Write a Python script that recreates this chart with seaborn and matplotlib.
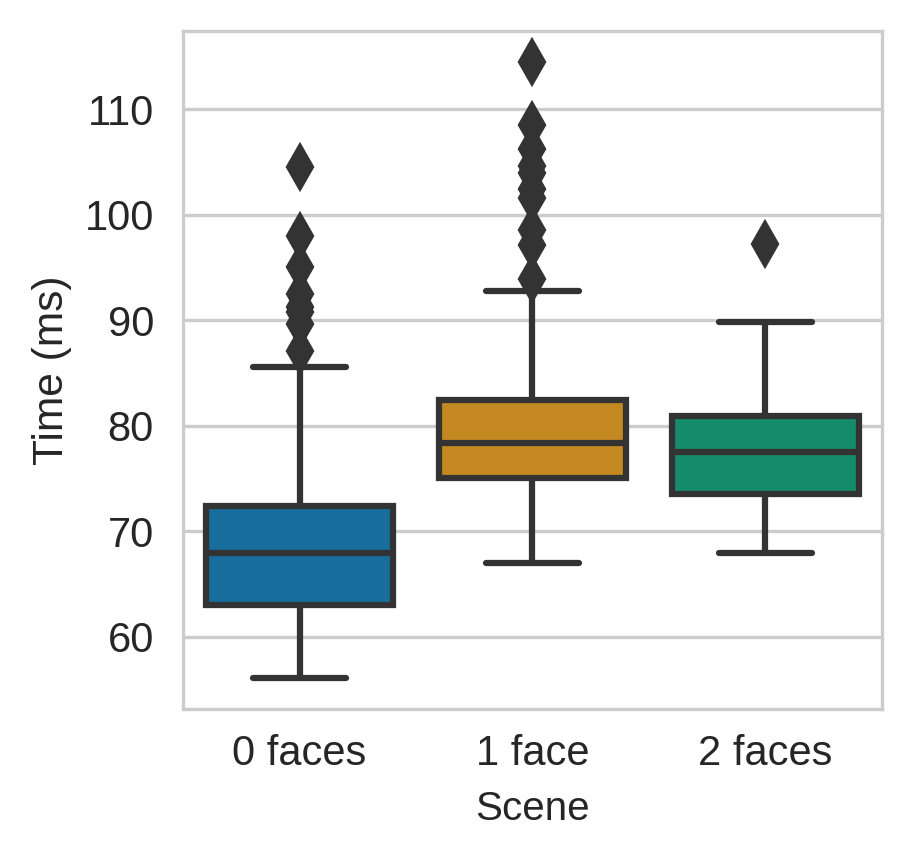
import pandas as pd
import matplotlib
matplotlib.use("Agg")
import matplotlib.pyplot as plt
import seaborn as sns

scenes = ["0 faces", "1 face", "2 faces"]

time_0_faces = [56.1, 58.0, 59.2, 60.1, 60.8, 61.4, 61.9, 62.3, 62.6, 62.8,
                63.0, 63.6, 64.2, 64.9, 65.5, 66.0, 66.5, 67.0, 67.4, 67.7,
                67.9, 68.5, 69.0, 69.5, 70.0, 70.5, 71.0, 71.4, 71.8, 72.1,
                72.4, 78.4, 85.6,
                87.1, 89.6, 90.8, 91.3, 92.5, 95.0, 98.0, 104.5]

time_1_face = [67.0, 69.5, 70.6, 71.4, 72.0, 72.6, 73.1, 73.5, 73.9, 74.2,
               74.5, 74.8, 75.0, 75.4, 75.7, 76.0, 76.3, 76.6, 76.9, 77.2,
               77.5, 77.8, 78.0, 78.2, 78.4, 78.8, 79.1, 79.4, 79.7, 80.0,
               80.4, 80.8, 81.1, 81.5, 81.8, 82.1, 82.4, 86.5, 92.8,
               93.9, 97.1, 98.6, 101.6, 102.4, 104.0, 104.6, 106.2, 108.5, 114.5]

time_2_faces = [67.9, 69.4, 70.5, 71.4, 72.2, 72.9, 73.5, 74.2, 75.0, 75.8,
                76.5, 77.0, 77.5, 78.0, 78.5, 79.0, 79.6, 80.2, 80.9, 82.5,
                84.0, 85.8, 87.5, 89.8, 97.2]

df = pd.DataFrame({
    "Scene": [scenes[0]] * len(time_0_faces)
             + [scenes[1]] * len(time_1_face)
             + [scenes[2]] * len(time_2_faces),
    "Time (ms)": time_0_faces + time_1_face + time_2_faces,
})

sns.set_theme(style="whitegrid", palette="colorblind",
              rc={"axes.linewidth": 0.8, "grid.linewidth": 0.8})
plt.rcParams["font.family"] = ["Liberation Sans", "DejaVu Sans"]

fig, ax = plt.subplots(figsize=(911 / 300, 861 / 300), dpi=300)
fig.subplots_adjust(left=0.201, right=0.968, top=0.964, bottom=0.177)

sns.boxplot(data=df, x="Scene", y="Time (ms)", hue="Scene", order=scenes,
            palette="colorblind", legend=False, linewidth=1.5, linecolor="0.2",
            flierprops=dict(marker="d", markersize=7,
                            markerfacecolor="0.2", markeredgecolor="0.2"),
            ax=ax)

ax.tick_params(axis="both", labelsize=10, length=0)
ax.tick_params(axis="y", pad=7)
ax.tick_params(axis="x", pad=6)
ax.set_xlabel("Scene", fontsize=9.7, labelpad=4)
ax.set_ylabel("Time (ms)", fontsize=10.2, labelpad=3)

fig.savefig("out.png", dpi=300)
